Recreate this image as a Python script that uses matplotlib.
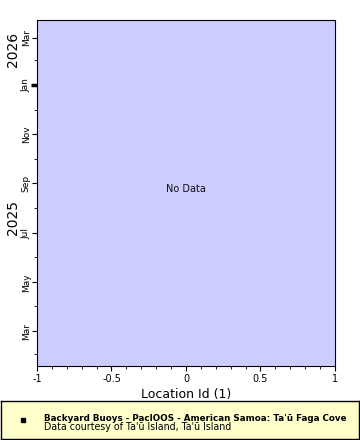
import numpy as np
import matplotlib
matplotlib.use('Agg')
import matplotlib.pyplot as plt
import matplotlib.dates as mdates
from datetime import datetime

# Chart content
x_range = [-1, 1]
x_major = [-1, -0.5, 0, 0.5, 1]
x_labels = ['-1', '-0.5', '0', '0.5', '1']
time_range = [datetime(2025, 1, 17), datetime(2026, 3, 23)]
month_ticks = [datetime(2025, 3, 1), datetime(2025, 5, 1), datetime(2025, 7, 1),
               datetime(2025, 9, 1), datetime(2025, 11, 1), datetime(2026, 1, 1),
               datetime(2026, 3, 1)]
month_labels = ['Mar', 'May', 'Jul', 'Sep', 'Nov', 'Jan', 'Mar']
year_labels = ['2025', '2026']
year_pos = [datetime(2025, 7, 20), datetime(2026, 2, 14)]
xlabel = 'Location Id (1)'
title_line = "Backyard Buoys - PacIOOS - American Samoa: Ta'\u016b Faga Cove"
credit_line = "Data courtesy of Ta'\u016b Island, Ta'\u016b Island"

fig = plt.figure(figsize=(3.6, 4.4), dpi=100)
ax = fig.add_axes([37/360, 1 - 366/440, 298/360, 346/440])
ax.set_facecolor('#CCCCFF')

ax.set_xlim(x_range)
ax.set_ylim(mdates.date2num(time_range[0]), mdates.date2num(time_range[1]))

ax.set_xticks(x_major)
ax.set_xticklabels(x_labels, fontsize=7)
ax.xaxis.set_minor_locator(plt.MultipleLocator(0.1))
ax.set_xlabel(xlabel, fontsize=9, labelpad=3)

ax.yaxis.set_minor_locator(mdates.MonthLocator())
ax.set_yticks(mdates.date2num(month_ticks))
ax.set_yticklabels(month_labels, fontsize=6.5, rotation=90, va='center')

ax.tick_params(axis='both', which='major', direction='out', length=3.5, width=0.8, pad=2)
ax.tick_params(axis='y', which='major', pad=1)
ax.tick_params(axis='both', which='minor', direction='out', length=2.5, width=0.6)

# thicker tick at the year boundary
ax.plot([-0.02, 0], [mdates.date2num(datetime(2026, 1, 1))] * 2, color='black',
        lw=2.5, solid_capstyle='butt', transform=ax.get_yaxis_transform(), clip_on=False)

for lab, d in zip(year_labels, year_pos):
    ax.text(-0.081, mdates.date2num(d), lab, rotation=90, fontsize=10,
            ha='center', va='center', transform=ax.get_yaxis_transform())

for s in ax.spines.values():
    s.set_linewidth(0.8)

ax.text(0.5, 0.512, 'No Data', transform=ax.transAxes, ha='center', va='center',
        fontsize=7, color='#111111')

# legend box
lax = fig.add_axes([0.5/360, 1 - 438.5/440, 358/360, 38/440])
lax.set_facecolor('#FFFFCC')
lax.set_xticks([])
lax.set_yticks([])
for s in lax.spines.values():
    s.set_linewidth(1.0)
lax.set_xlim(0, 358)
lax.set_ylim(38, 0)
lax.plot([22], [19], marker='s', color='black', markersize=3.2)
t1 = lax.text(43, 18, title_line, fontsize=7, fontweight='bold', va='center', ha='left')
t2 = lax.text(43, 26.5, credit_line, fontsize=7, va='center', ha='left')

# fit the legend text to the widths seen in the reference
r = fig.canvas.get_renderer()
t1.set_fontsize(7 * 301.0 / t1.get_window_extent(r).width)
t2.set_fontsize(7 * 189.0 / t2.get_window_extent(r).width)

fig.savefig('out.png', dpi=100)
